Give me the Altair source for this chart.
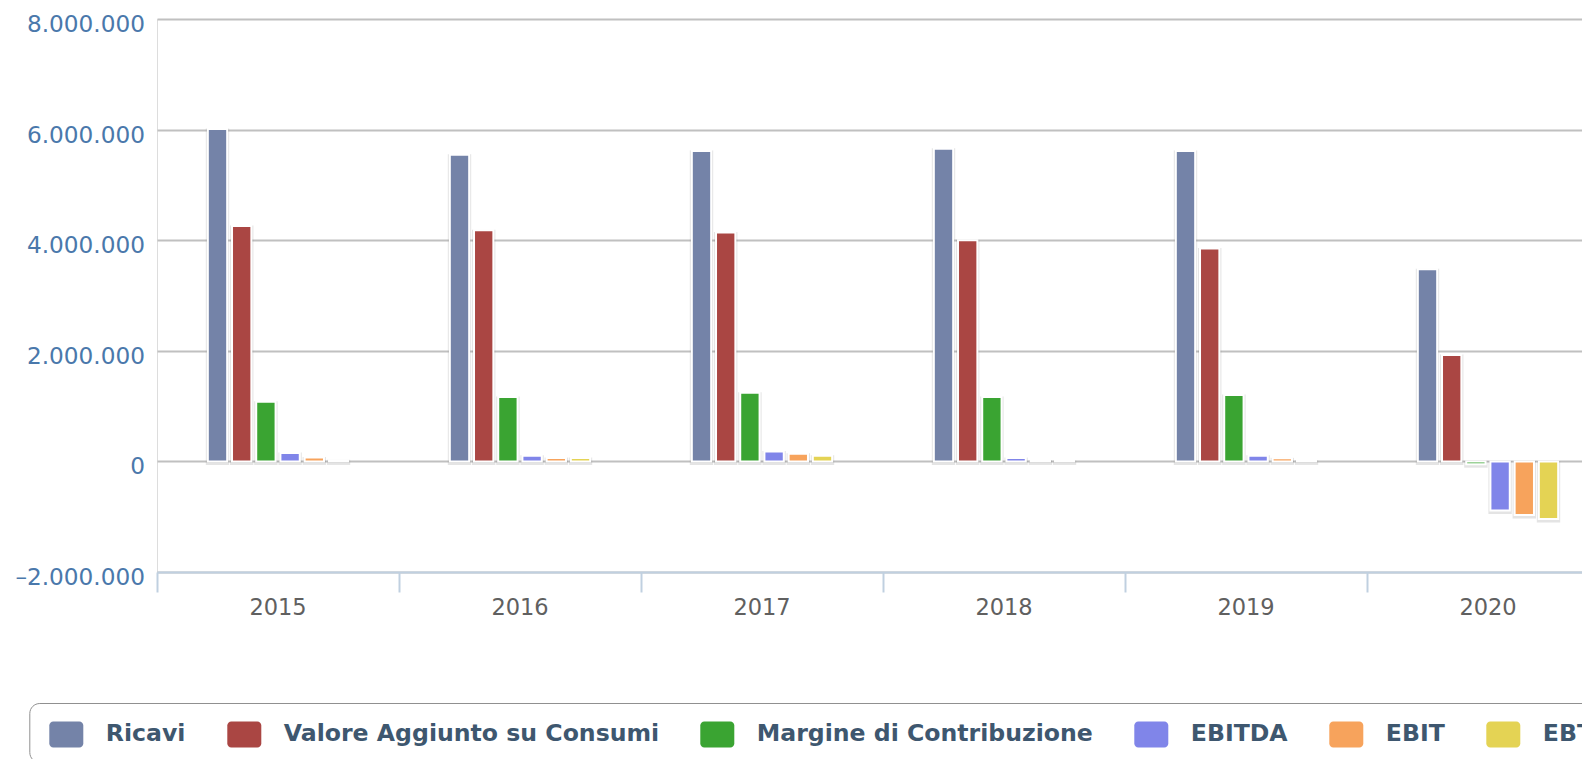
import altair as alt
import pandas as pd

years = ["2015", "2016", "2017", "2018", "2019", "2020"]
series = ["Ricavi", "Valore Aggiunto su Consumi", "Margine di Contribuzione", "EBITDA", "EBIT", "EBT"]
colors = ["#7483A8", "#AA4643", "#3AA432", "#8085E9", "#F7A35C", "#E4D354"]

ricavi = [6010000, 5545000, 5615000, 5655000, 5615000, 3475000]
valore = [4255000, 4180000, 4140000, 4000000, 3850000, 1925000]
margine = [1080000, 1165000, 1240000, 1165000, 1200000, -50000]
ebitda = [150000, 100000, 180000, 60000, 100000, -890000]
ebit = [70000, 60000, 140000, 15000, 55000, -970000]
ebt = [20000, 60000, 100000, 10000, 15000, -1040000]

y_ticks = [-2000000, 0, 2000000, 4000000, 6000000, 8000000]

values = [ricavi, valore, margine, ebitda, ebit, ebt]
rows = []
for s, vals in zip(series, values):
    for yr, v in zip(years, vals):
        rows.append({"anno": yr, "serie": s, "valore": v})
df = pd.DataFrame(rows)

FONT = "DejaVu Sans"

sym = ("M-0.765,-0.765H0.765A0.235,0.235 0 0 1 1,-0.53V0.53A0.235,0.235 0 0 1 0.765,0.765"
       "H-0.765A0.235,0.235 0 0 1 -1,0.53V-0.53A0.235,0.235 0 0 1 -0.765,-0.765Z")

x_enc = alt.X(
    "anno:N",
    sort=years,
    scale=alt.Scale(range=[0, 1452], paddingInner=0.4, paddingOuter=0.2),
    axis=alt.Axis(
        title=None, labelAngle=0, bandPosition=-1 / 3, grid=False,
        domainColor="#C0D0E0", domainWidth=2, tickColor="#C0D0E0", tickWidth=2, tickSize=20,
        labelFont=FONT, labelFontSize=22.5, labelColor="#606060",
        labelBaseline="alphabetic", labelPadding=22,
    ),
)
xo_enc = alt.XOffset("serie:N", sort=series,
                     scale=alt.Scale(domain=series, paddingInner=0.2, paddingOuter=0.1))
y_enc = alt.Y(
    "valore:Q",
    scale=alt.Scale(domain=[-2000000, 8000000], nice=False),
    axis=alt.Axis(
        title=None, values=y_ticks, ticks=False, domain=False,
        grid=True, gridColor="#C0C0C0", gridWidth=2,
        labelFont=FONT, labelFontSize=23.2, labelColor="#4a78ab",
        labelBaseline="alphabetic", labelOffset=12.5, labelPadding=12.5,
        labelExpr="replace(replace(format(datum.value, ','), /,/g, '.'), '\u2212', '\u2013')",
    ),
)

shadow = alt.Chart(df).mark_bar(
    color="#000000", stroke="#000000", strokeWidth=4, opacity=0.1,
    xOffset=1.5, yOffset=1.5, x2Offset=1.5, y2Offset=1.5,
).encode(x=x_enc, xOffset=xo_enc, y=y_enc)

bars = alt.Chart(df).mark_bar(stroke="white", strokeWidth=2).encode(
    x=x_enc,
    xOffset=xo_enc,
    y=y_enc,
    color=alt.Color(
        "serie:N",
        sort=series,
        scale=alt.Scale(domain=series, range=colors),
        legend=alt.Legend(
            title=None, orient="none", direction="horizontal",
            legendX=-127.7, legendY=684,
            symbolType=sym, symbolSize=1156, symbolStrokeWidth=0, symbolOpacity=1,
            symbolOffset=6,
            labelFont=FONT, labelFontWeight="bold", labelFontSize=23.6, labelColor="#3E576F",
            labelOffset=22.5, labelLimit=600, columnPadding=35,
            strokeColor="#909090", cornerRadius=10, padding=14,
        ),
    ),
)

chart = alt.layer(shadow, bars).properties(
    width=1425, height=553,
    padding={"left": 149, "top": 11, "right": 0, "bottom": 187},
    autosize=alt.AutoSizeParams(type="none"),
).configure_view(stroke=None).configure(background="white")

chart.save("out.html", embed_options={"renderer": "svg", "actions": False})
